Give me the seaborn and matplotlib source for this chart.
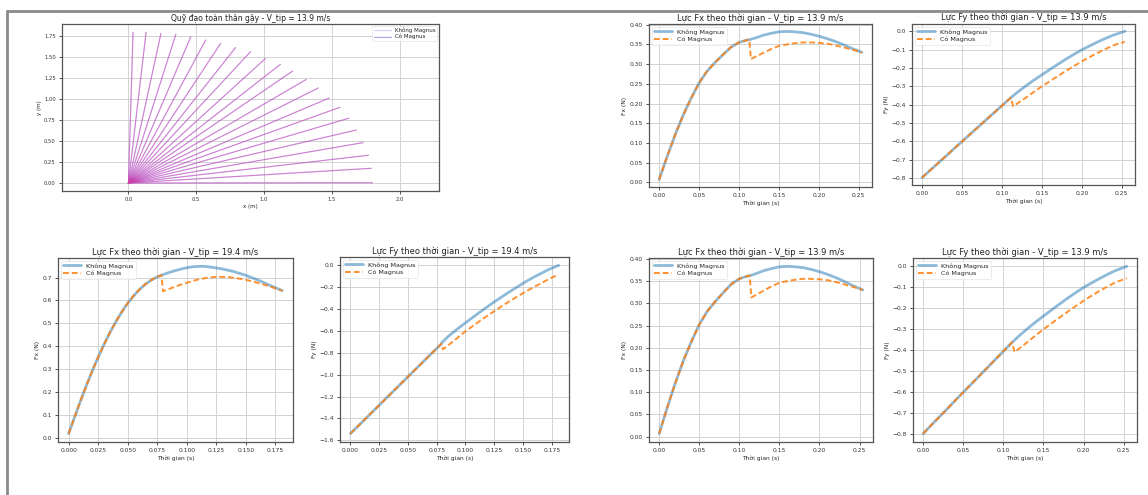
import matplotlib
matplotlib.use("Agg")
import matplotlib.pyplot as plt
from matplotlib.lines import Line2D
import numpy as np
import pandas as pd
import seaborn as sns

sns.set_theme(style="ticks")
plt.rcParams['font.family'] = ['DejaVu Sans']

# ---------------- data ----------------
series_labels = ["Không Magnus", "Có Magnus"]

# trajectory: stick tips (stick pivots at origin)
tip_x = [0.034, 0.13, 0.24, 0.35, 0.46, 0.57, 0.68, 0.79, 0.90, 1.01, 1.12,
         1.21, 1.31, 1.40, 1.48, 1.56, 1.625, 1.68, 1.73, 1.77, 1.79, 1.80]
tip_y = [1.79, 1.79, 1.78, 1.77, 1.74, 1.70, 1.66, 1.61, 1.56, 1.48, 1.41,
         1.33, 1.23, 1.13, 1.01, 0.90, 0.77, 0.63, 0.48, 0.33, 0.175, 0.004]

# Fx, V_tip = 13.9
fx139_t_common = [0.0, 0.01, 0.02, 0.03, 0.04, 0.05, 0.06, 0.07, 0.08, 0.09, 0.10, 0.11, 0.113]
fx139_f_common = [0.007, 0.065, 0.120, 0.170, 0.213, 0.252, 0.282, 0.304, 0.324, 0.343, 0.355, 0.361, 0.362]
fx139_t_no = [0.12, 0.13, 0.14, 0.15, 0.16, 0.17, 0.18, 0.19, 0.20, 0.21, 0.22, 0.23, 0.24, 0.254]
fx139_f_no = [0.366, 0.373, 0.378, 0.382, 0.383, 0.382, 0.380, 0.376, 0.371, 0.365, 0.358, 0.350, 0.341, 0.330]
fx139_t_yes = [0.115, 0.12, 0.13, 0.14, 0.15, 0.16, 0.17, 0.18, 0.19, 0.20, 0.21, 0.22, 0.23, 0.24, 0.254]
fx139_f_yes = [0.313, 0.318, 0.328, 0.338, 0.346, 0.350, 0.353, 0.355, 0.355, 0.354, 0.352, 0.348, 0.343, 0.338, 0.330]

# Fy, V_tip = 13.9
fy139_t_common = [0.0, 0.01, 0.02, 0.03, 0.04, 0.05, 0.06, 0.07, 0.08, 0.09, 0.10, 0.111]
fy139_f_common = [-0.797, -0.757, -0.718, -0.679, -0.639, -0.600, -0.561, -0.522, -0.483, -0.444, -0.405, -0.362]
fy139_t_no = [0.12, 0.13, 0.14, 0.15, 0.16, 0.17, 0.18, 0.19, 0.20, 0.21, 0.22, 0.23, 0.24, 0.254]
fy139_f_no = [-0.330, -0.297, -0.266, -0.237, -0.208, -0.180, -0.152, -0.126, -0.101, -0.079, -0.058, -0.038, -0.020, 0.0]
fy139_t_yes = [0.114, 0.12, 0.13, 0.14, 0.15, 0.16, 0.17, 0.18, 0.19, 0.20, 0.21, 0.22, 0.23, 0.24, 0.254]
fy139_f_yes = [-0.408, -0.391, -0.361, -0.330, -0.300, -0.272, -0.244, -0.217, -0.190, -0.164, -0.140, -0.117, -0.096, -0.076, -0.057]

# Fx, V_tip = 19.4
fx194_t_common = [0.0, 0.005, 0.010, 0.015, 0.020, 0.025, 0.030, 0.035, 0.040, 0.045, 0.050,
                  0.055, 0.060, 0.065, 0.070, 0.075, 0.0785]
fx194_f_common = [0.018, 0.090, 0.160, 0.228, 0.292, 0.352, 0.408, 0.460, 0.507, 0.550, 0.588,
                  0.620, 0.648, 0.671, 0.689, 0.703, 0.710]
fx194_t_no = [0.085, 0.090, 0.095, 0.100, 0.105, 0.110, 0.115, 0.120, 0.125, 0.130, 0.135,
              0.140, 0.145, 0.150, 0.155, 0.160, 0.165, 0.170, 0.175, 0.181]
fx194_f_no = [0.722, 0.730, 0.737, 0.743, 0.747, 0.749, 0.749, 0.746, 0.742, 0.738, 0.732,
              0.726, 0.718, 0.710, 0.700, 0.690, 0.679, 0.667, 0.656, 0.643]
fx194_t_yes = [0.080, 0.085, 0.090, 0.095, 0.100, 0.105, 0.110, 0.115, 0.120, 0.125, 0.130,
               0.135, 0.140, 0.145, 0.150, 0.155, 0.160, 0.165, 0.170, 0.175, 0.181]
fx194_f_yes = [0.640, 0.650, 0.660, 0.669, 0.677, 0.685, 0.692, 0.697, 0.701, 0.703, 0.703,
               0.702, 0.699, 0.695, 0.690, 0.684, 0.677, 0.670, 0.662, 0.653, 0.643]

# Fy, V_tip = 19.4
fy194_t_common = [0.0, 0.01, 0.02, 0.03, 0.04, 0.05, 0.06, 0.07, 0.079]
fy194_f_common = [-1.539, -1.435, -1.331, -1.227, -1.123, -1.019, -0.915, -0.811, -0.718]
fy194_t_no = [0.0795, 0.085, 0.090, 0.095, 0.100, 0.105, 0.110, 0.115, 0.120, 0.125, 0.130,
              0.135, 0.140, 0.145, 0.150, 0.155, 0.160, 0.165, 0.170, 0.175, 0.181]
fy194_f_no = [-0.706, -0.650, -0.607, -0.565, -0.526, -0.486, -0.447, -0.409, -0.371, -0.334, -0.299,
              -0.264, -0.230, -0.197, -0.164, -0.133, -0.104, -0.077, -0.050, -0.025, 0.0]
fy194_t_yes = [0.0805, 0.085, 0.090, 0.095, 0.100, 0.105, 0.110, 0.115, 0.120, 0.125, 0.130,
               0.135, 0.140, 0.145, 0.150, 0.155, 0.160, 0.165, 0.170, 0.175, 0.181]
fy194_f_yes = [-0.768, -0.730, -0.689, -0.646, -0.604, -0.565, -0.527, -0.490, -0.454, -0.418, -0.384,
               -0.350, -0.317, -0.285, -0.254, -0.224, -0.195, -0.167, -0.139, -0.112, -0.084]

# ---------------- styling ----------------
TITLE_FS = 6
TICK_FS = 4.3
LABEL_FS = 4.3
LEG_FS = 4.6
BLUE = "#1f77b4"
ORANGE = "#ff7f0e"
SPINE = "#555555"
TRAJ_NO = "#6060ff"
TRAJ_YES = "#d040a8"

fig = plt.figure(figsize=(11.48, 4.95), dpi=100)
fig.patch.set_facecolor("white")


def style_ax(ax):
    ax.grid(True, color="#d2d2d2", linewidth=0.7)
    ax.set_axisbelow(True)
    for s in ax.spines.values():
        s.set_color(SPINE)
        s.set_linewidth(0.9)
    ax.tick_params(labelsize=TICK_FS, colors="#333333", length=2.5, width=0.6, pad=2)


def force_panel(rect, title, ylabel, tc, fc, tn, fn, ty, fy):
    ax = fig.add_axes(rect)
    t_no = tc + tn
    f_no = fc + fn
    t_yes = tc + ty
    f_yes = fc + fy
    sns.lineplot(x=t_no, y=f_no, ax=ax, color=BLUE, alpha=0.5, linewidth=2.0,
                 estimator=None, label=series_labels[0])
    sns.lineplot(x=t_yes, y=f_yes, ax=ax, color=ORANGE, alpha=0.85, linewidth=1.4,
                 linestyle=(0, (3, 1.5)), estimator=None, label=series_labels[1])
    ax.set_title(title, fontsize=TITLE_FS, pad=2.5, color="#222222")
    ax.set_xlabel("Thời gian (s)", fontsize=LABEL_FS, labelpad=1.5)
    ax.set_ylabel(ylabel, fontsize=LABEL_FS, labelpad=1.5)
    style_ax(ax)
    leg = ax.legend(loc="upper left", fontsize=LEG_FS, frameon=True, borderpad=0.4,
                    handlelength=2.8, labelspacing=0.3, borderaxespad=0.4)
    leg.get_frame().set_linewidth(0.5)
    leg.get_frame().set_edgecolor("#dddddd")
    return ax


# ---------------- trajectory ----------------
ax0 = fig.add_axes([0.0540, 0.6141, 0.3284, 0.3374])
rows = []
for i, (tx, ty_) in enumerate(zip(tip_x, tip_y)):
    rows.append({"ray": i, "x": 0.0, "y": 0.0})
    rows.append({"ray": i, "x": tx, "y": ty_})
traj = pd.DataFrame(rows)
sns.lineplot(data=traj, x="x", y="y", units="ray", estimator=None, sort=False,
             ax=ax0, color=TRAJ_NO, alpha=0.3, linewidth=0.8, legend=False)
sns.lineplot(data=traj, x="x", y="y", units="ray", estimator=None, sort=False,
             ax=ax0, color=TRAJ_YES, alpha=0.55, linewidth=0.8, legend=False)
ax0.set_xlim(-0.49, 2.29)
ax0.set_ylim(-0.095, 1.89)
ax0.set_xticks([0.0, 0.5, 1.0, 1.5, 2.0])
ax0.set_yticks([0.0, 0.25, 0.5, 0.75, 1.0, 1.25, 1.5, 1.75])
ax0.set_title("Quỹ đạo toàn thân gậy - V_tip = 13.9 m/s", fontsize=TITLE_FS - 0.5, pad=2.5, color="#222222")
ax0.set_xlabel("x (m)", fontsize=LABEL_FS - 0.3, labelpad=1.5)
ax0.set_ylabel("y (m)", fontsize=LABEL_FS - 0.3, labelpad=1.5)
style_ax(ax0)
ax0.tick_params(labelsize=TICK_FS - 0.5)
handles0 = [Line2D([], [], color=TRAJ_NO, alpha=0.3, linewidth=0.8),
            Line2D([], [], color="#7070e0", alpha=0.6, linewidth=0.8)]
leg0 = ax0.legend(handles0, series_labels, loc="upper right", fontsize=LEG_FS - 0.6, frameon=True,
                  borderpad=0.3, handlelength=3.0, labelspacing=0.2, borderaxespad=0.3)
leg0.get_frame().set_linewidth(0.5)
leg0.get_frame().set_edgecolor("#dddddd")

# ---------------- force panels ----------------
force_panel([0.5653, 0.6222, 0.1943, 0.3293], "Lực Fx theo thời gian - V_tip = 13.9 m/s", "Fx (N)",
            fx139_t_common, fx139_f_common, fx139_t_no, fx139_f_no, fx139_t_yes, fx139_f_yes)
force_panel([0.7944, 0.6263, 0.1943, 0.3253], "Lực Fy theo thời gian - V_tip = 13.9 m/s", "Fy (N)",
            fy139_t_common, fy139_f_common, fy139_t_no, fy139_f_no, fy139_t_yes, fy139_f_yes)
force_panel([0.0505, 0.1071, 0.2047, 0.3717], "Lực Fx theo thời gian - V_tip = 19.4 m/s", "Fx (N)",
            fx194_t_common, fx194_f_common, fx194_t_no, fx194_f_no, fx194_t_yes, fx194_f_yes)
force_panel([0.2962, 0.1071, 0.1995, 0.3737], "Lực Fy theo thời gian - V_tip = 19.4 m/s", "Fy (N)",
            fy194_t_common, fy194_f_common, fy194_t_no, fy194_f_no, fy194_t_yes, fy194_f_yes)
force_panel([0.5653, 0.1071, 0.1951, 0.3717], "Lực Fx theo thời gian - V_tip = 13.9 m/s", "Fx (N)",
            fx139_t_common, fx139_f_common, fx139_t_no, fx139_f_no, fx139_t_yes, fx139_f_yes)
force_panel([0.7953, 0.1071, 0.1951, 0.3717], "Lực Fy theo thời gian - V_tip = 13.9 m/s", "Fy (N)",
            fy139_t_common, fy139_f_common, fy139_t_no, fy139_f_no, fy139_t_yes, fy139_f_yes)

# ---------------- page frame ----------------
fig.add_artist(Line2D([0.0061, 1.0], [0.9778, 0.9778], transform=fig.transFigure,
                      color="#8a8a8a", linewidth=2.0))
fig.add_artist(Line2D([0.0061, 0.0061], [0.0, 0.9778], transform=fig.transFigure,
                      color="#8a8a8a", linewidth=2.0))

fig.savefig("out.png", dpi=100)
